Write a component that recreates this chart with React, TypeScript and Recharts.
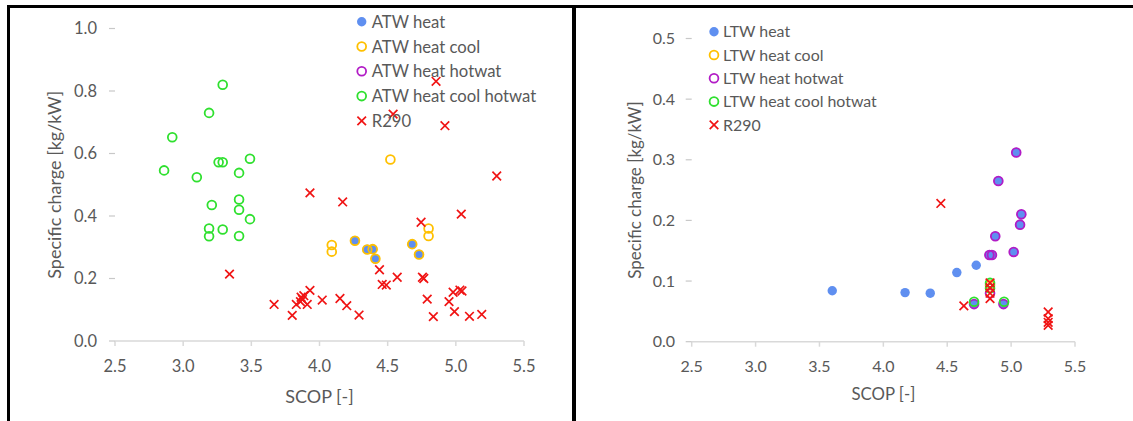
import React from 'react';
import { ScatterChart, Scatter, XAxis, YAxis, Legend } from 'recharts';

const FONT = 'Lato, "Open Sans", "DejaVu Sans", sans-serif';
const TEXT = '#595959';
const AXIS = '#d9d9d9';

const C_BLUE = '#5f8ff0';
const C_YELLOW = '#ffc000';
const C_PURPLE = '#b21cc6';
const C_GREEN = '#2fe02f';
const C_RED = '#f01414';

const xTicks = [2.5, 3.0, 3.5, 4.0, 4.5, 5.0, 5.5];
const yTicksLeft = [0, 0.2, 0.4, 0.6, 0.8, 1.0];
const yTicksRight = [0, 0.1, 0.2, 0.3, 0.4, 0.5];

type P = [number, number];

// ---- Left panel (ATW) ----
const atwHeat: P[] = [
  [4.26, 0.321], [4.35, 0.293], [4.39, 0.294], [4.41, 0.263], [4.68, 0.31], [4.73, 0.277],
];
const atwHeatCool: P[] = [
  [4.26, 0.321], [4.35, 0.293], [4.39, 0.294], [4.41, 0.263], [4.68, 0.31], [4.73, 0.277],
  [4.09, 0.307], [4.09, 0.286], [4.8, 0.36], [4.8, 0.336], [4.52, 0.581],
];
const atwHeatHotwat: P[] = [];
const atwHeatCoolHotwat: P[] = [
  [3.29, 0.82], [3.19, 0.73], [2.92, 0.652], [2.86, 0.546], [3.1, 0.524], [3.26, 0.572],
  [3.29, 0.572], [3.49, 0.583], [3.41, 0.538], [3.41, 0.453], [3.21, 0.435], [3.41, 0.42],
  [3.49, 0.39], [3.19, 0.36], [3.19, 0.335], [3.29, 0.357], [3.41, 0.336],
];
const r290Left: P[] = [
  [4.855, 0.831], [4.54, 0.726], [4.92, 0.689], [5.3, 0.528], [3.93, 0.474], [4.17, 0.445],
  [5.04, 0.406], [4.745, 0.38], [3.34, 0.214], [4.44, 0.228], [4.46, 0.181], [4.49, 0.179],
  [4.57, 0.204], [4.755, 0.204], [4.765, 0.2], [4.79, 0.134], [4.835, 0.078], [4.95, 0.126],
  [4.98, 0.156], [5.03, 0.163], [5.045, 0.16], [4.99, 0.094], [5.1, 0.079], [5.19, 0.085],
  [3.667, 0.117], [3.8, 0.082], [3.83, 0.117], [3.86, 0.126], [3.865, 0.14], [3.875, 0.133],
  [3.885, 0.145], [3.91, 0.117], [3.93, 0.162], [4.02, 0.131], [4.15, 0.136], [4.2, 0.113],
  [4.29, 0.083],
];

// ---- Right panel (LTW) ----
const ltwHeat: P[] = [
  [3.6, 0.084], [4.17, 0.081], [4.367, 0.08], [4.575, 0.114], [4.727, 0.126],
  [5.04, 0.312], [4.9, 0.265], [5.08, 0.21], [5.07, 0.193], [4.876, 0.174], [4.83, 0.143],
  [4.85, 0.143], [5.02, 0.148], [4.71, 0.062], [4.94, 0.062],
];
const ltwHeatCool: P[] = [[4.835, 0.093]];
const ltwHeatHotwat: P[] = [
  [5.04, 0.312], [4.9, 0.265], [5.08, 0.21], [5.07, 0.193], [4.876, 0.174], [4.83, 0.143],
  [4.85, 0.143], [5.02, 0.148], [4.71, 0.062], [4.94, 0.062], [4.835, 0.08],
];
const ltwHeatCoolHotwat: P[] = [[4.71, 0.066], [4.945, 0.066], [4.835, 0.097], [4.835, 0.088]];
const r290Right: P[] = [
  [4.45, 0.228], [4.63, 0.059], [4.835, 0.097], [4.835, 0.089], [4.835, 0.08], [4.835, 0.071],
  [5.29, 0.049], [5.29, 0.038], [5.29, 0.032], [5.29, 0.027],
];

const toPts = (a: P[]) => a.map(([x, y]) => ({ x, y }));

type Kind = 'dot' | 'ring' | 'cross';
interface Series { name: string; data: P[]; kind: Kind; color: string; }

const leftSeries: Series[] = [
  { name: 'ATW heat', data: atwHeat, kind: 'dot', color: C_BLUE },
  { name: 'ATW heat cool', data: atwHeatCool, kind: 'ring', color: C_YELLOW },
  { name: 'ATW heat hotwat', data: atwHeatHotwat, kind: 'ring', color: C_PURPLE },
  { name: 'ATW heat cool hotwat', data: atwHeatCoolHotwat, kind: 'ring', color: C_GREEN },
  { name: 'R290', data: r290Left, kind: 'cross', color: C_RED },
];
const rightSeries: Series[] = [
  { name: 'LTW heat', data: ltwHeat, kind: 'dot', color: C_BLUE },
  { name: 'LTW heat cool', data: ltwHeatCool, kind: 'ring', color: C_YELLOW },
  { name: 'LTW heat hotwat', data: ltwHeatHotwat, kind: 'ring', color: C_PURPLE },
  { name: 'LTW heat cool hotwat', data: ltwHeatCoolHotwat, kind: 'ring', color: C_GREEN },
  { name: 'R290', data: r290Right, kind: 'cross', color: C_RED },
];

const marker = (kind: Kind, color: string, cx: number, cy: number, key?: string | number) => {
  if (kind === 'dot') return <circle key={key} cx={cx} cy={cy} r={4.7} fill={color} />;
  if (kind === 'ring')
    return <circle key={key} cx={cx} cy={cy} r={4.4} fill="none" stroke={color} strokeWidth={1.8} />;
  const s = 4.3;
  return (
    <path
      key={key}
      d={`M${cx - s},${cy - s}L${cx + s},${cy + s}M${cx - s},${cy + s}L${cx + s},${cy - s}`}
      stroke={color}
      strokeWidth={1.7}
      fill="none"
    />
  );
};

const shapeFor = (kind: Kind, color: string) => (props: any) => {
  if (props.cx == null || props.cy == null) return <g />;
  return marker(kind, color, props.cx, props.cy);
};

const makeLegend = (series: Series[], mx: number, tx: number, y0: number, dy: number, fs: number) => () => (
  <svg width={220} height={y0 + dy * series.length} style={{ overflow: 'visible' }}>
    {series.map((s, i) => (
      <g key={s.name}>
        {marker(s.kind, s.color, mx, y0 + dy * i)}
        <text x={tx} y={y0 + dy * i} dy="0.36em" fill={TEXT} fontSize={fs} fontFamily={FONT}>
          {s.name}
        </text>
      </g>
    ))}
  </svg>
);

const yTitle = (cx: number, fs: number) => (props: any) => {
  const vb = props.viewBox || {};
  const cy = vb.y + vb.height / 2;
  return (
    <text x={cx} y={cy} transform={`rotate(-90 ${cx} ${cy})`} textAnchor="middle" dy="0.36em"
      fill={TEXT} fontSize={fs} fontFamily={FONT}>
      Specific charge [kg/kW]
    </text>
  );
};

const xTitle = (cy: number, fs: number) => (props: any) => {
  const vb = props.viewBox || {};
  const cx = vb.x + vb.width / 2;
  return (
    <text x={cx} y={cy} textAnchor="middle" dy="0.36em" fill={TEXT} fontSize={fs} fontFamily={FONT}>
      SCOP [-]
    </text>
  );
};

const fmt1 = (v: number) => v.toFixed(1);

interface PanelProps {
  width: number;
  series: Series[];
  yMax: number;
  yTicks: number[];
  margin: { top: number; right: number; bottom: number; left: number };
  yAxisWidth: number;
  yTickMargin: number;
  xTickMargin: number;
  tickFs: number;
  yTitleX: number;
  xTitleY: number;
  xTitleFs: number;
  yTitleFs: number;
  legend: { left: number; top: number; mx: number; tx: number; y0: number; dy: number; fs: number };
}

const Panel = (p: PanelProps) => {
  const tickStyle = { fill: TEXT, fontSize: p.tickFs, fontFamily: FONT };
  return (
    <ScatterChart width={p.width} height={421} margin={p.margin}>
      <XAxis
        type="number"
        dataKey="x"
        domain={[2.5, 5.5]}
        ticks={xTicks}
        interval={0}
        tickFormatter={fmt1}
        axisLine={{ stroke: AXIS, strokeWidth: 1.5 }}
        tickLine={{ stroke: AXIS, strokeWidth: 1.5 }}
        tickSize={5}
        tickMargin={p.xTickMargin}
        height={60}
        tick={tickStyle}
        label={xTitle(p.xTitleY, p.xTitleFs)}
      />
      <YAxis
        type="number"
        dataKey="y"
        domain={[0, p.yMax]}
        ticks={p.yTicks}
        interval={0}
        tickFormatter={fmt1}
        axisLine={false}
        tickLine={{ stroke: '#c8c8c8', strokeWidth: 1.2 }}
        tickSize={6}
        tickMargin={p.yTickMargin}
        width={p.yAxisWidth}
        tick={tickStyle}
        label={yTitle(p.yTitleX, p.yTitleFs)}
      />
      <Legend
        layout="vertical"
        align="center"
        verticalAlign="middle"
        width={220}
        wrapperStyle={{ left: p.legend.left, top: p.legend.top, width: 220 }}
        content={makeLegend(p.series, p.legend.mx, p.legend.tx, p.legend.y0, p.legend.dy, p.legend.fs)}
      />
      {p.series.map((s) => (
        <Scatter
          key={s.name}
          name={s.name}
          data={toPts(s.data)}
          fill={s.color}
          shape={shapeFor(s.kind, s.color)}
          isAnimationActive={false}
        />
      ))}
    </ScatterChart>
  );
};

export default function App() {
  return (
    <div style={{ position: 'absolute', left: 0, top: 0, width: 1133, height: 421, background: '#fff', overflow: 'hidden' }}>
      <div style={{ position: 'absolute', left: 0, top: 0 }}>
        <Panel
          width={572}
          series={leftSeries}
          yMax={1}
          yTicks={yTicksLeft}
          margin={{ top: 28.5, right: 48, bottom: 20, left: 0 }}
          yAxisWidth={115}
          yTickMargin={12}
          xTickMargin={14.6}
          tickFs={16.5}
          yTitleX={55}
          xTitleY={396.7}
          xTitleFs={18}
          yTitleFs={18}
          legend={{ left: 350, top: 8, mx: 11.7, tx: 21.7, y0: 13.7, dy: 24.8, fs: 16.7 }}
        />
      </div>
      <div style={{ position: 'absolute', left: 576, top: 0 }}>
        <Panel
          width={557}
          series={rightSeries}
          yMax={0.5}
          yTicks={yTicksRight}
          margin={{ top: 38.5, right: 58, bottom: 19.3, left: 0 }}
          yAxisWidth={115.7}
          yTickMargin={10.7}
          xTickMargin={14}
          tickFs={16}
          yTitleX={59}
          xTitleY={394}
          xTitleFs={16.8}
          yTitleFs={17}
          legend={{ left: 130, top: 20, mx: 8, tx: 17, y0: 11.7, dy: 23.3, fs: 15.9 }}
        />
      </div>
      <div style={{ position: 'absolute', left: 7, top: 5, width: 1126, height: 3, background: '#000' }} />
      <div style={{ position: 'absolute', left: 7, top: 5, width: 3, height: 416, background: '#000' }} />
      <div style={{ position: 'absolute', left: 572, top: 5, width: 4, height: 416, background: '#000' }} />
    </div>
  );
}
